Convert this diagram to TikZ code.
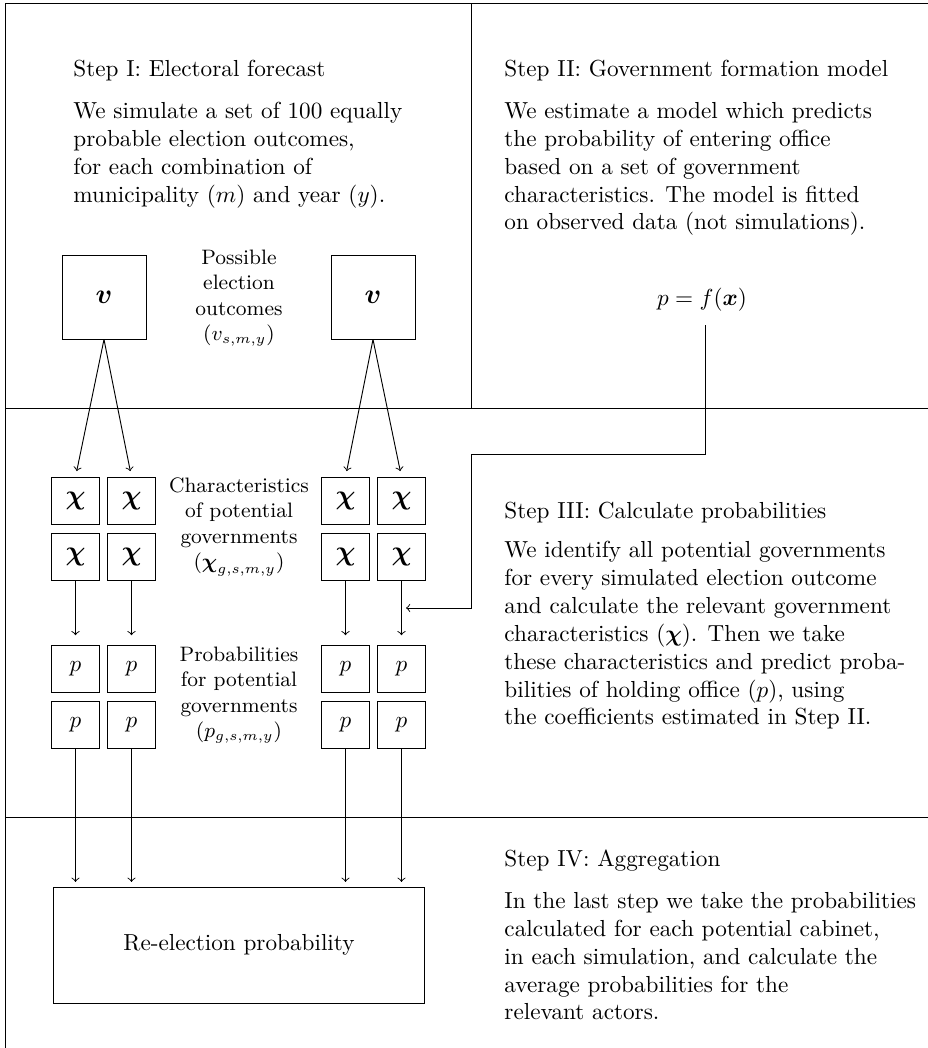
\documentclass[tikz,border=0pt]{standalone}
\usepackage{amsmath,amssymb}
\usepackage{tikz}
\tikzstyle{Frame}=[draw=black,thin]
\tikzstyle{VBox}=[rectangle,draw=black,inner sep=0pt,minimum size=36.2pt,
font=\large]
\tikzstyle{XBox}=[rectangle,draw=black,inner sep=0pt,minimum size=20.3pt,
font=\large]
\tikzstyle{PBox}=[rectangle,draw=black,inner sep=0pt,minimum size=20.3pt]
\tikzstyle{RBox}=[rectangle,draw=black,inner sep=0pt,minimum width=160pt,
minimum height=50pt]
\tikzstyle{Edge}=[draw=black,->,thin]
\tikzstyle{Label}=[font=\small,align=center,inner sep=0pt]
\tikzstyle{StepTitle}=[anchor=base west,inner sep=0pt]
\tikzstyle{StepText}=[anchor=north west,align=left,inner sep=0pt]

\begin{document}
\begin{tikzpicture}[x=0.431pt,y=-0.431pt]
        \useasboundingbox (0,0) rectangle (928,1048);
        % panels
        \draw[Frame] (5,1048) -- (5,3) -- (928,3);
        \draw[Frame] (5,408) -- (928,408);
        \draw[Frame] (5,817) -- (928,817);
        \draw[Frame] (471,3) -- (471,408);
        % step texts
        \node[StepTitle](t1)at(73,76){Step I: Electoral forecast};
        \node[StepText](b1)at(73,102){We simulate a set of 100 equally\\
            probable election outcomes,\\for each combination of\\
            municipality ($m$) and year ($y$).};
        \node[StepTitle](t2)at(504,76){Step II: Government formation model};
        \node[StepText](b2)at(504,102){We estimate a model which predicts\\
            the probability of entering office\\based on a set of government\\
            characteristics. The model is fitted\\
            on observed data (not simulations).};
        \node[StepTitle](t3)at(504,518){Step III: Calculate probabilities};
        \node[StepText](b3)at(504,541){We identify all potential governments\\
            for every simulated election outcome\\
            and calculate the relevant government\\
            characteristics ($\boldsymbol{\chi}$). Then we take\\
            these characteristics and predict proba-\\
            bilities of holding office ($p$), using\\
            the coefficients estimated in Step II.};
        \node[StepTitle](t4)at(504,866){Step IV: Aggregation};
        \node[StepText](b4)at(504,892){In the last step we take the probabilities\\
            calculated for each potential cabinet,\\
            in each simulation, and calculate the\\
            average probabilities for the\\relevant actors.};
        % election outcomes
        \node[VBox](v1)at(104,297){$\boldsymbol{v}$};
        \node[VBox](v2)at(373,297){$\boldsymbol{v}$};
        \node[Label](vl)at(239,298){Possible\\election\\outcomes\\
            ($v_{s,m,y}$)};
        % characteristics
        \node[XBox](x11)at(75.5,501){$\boldsymbol{\chi}$};
        \node[XBox](x12)at(131.5,501){$\boldsymbol{\chi}$};
        \node[XBox](x13)at(345.5,501){$\boldsymbol{\chi}$};
        \node[XBox](x14)at(401.5,501){$\boldsymbol{\chi}$};
        \node[XBox](x21)at(75.5,557){$\boldsymbol{\chi}$};
        \node[XBox](x22)at(131.5,557){$\boldsymbol{\chi}$};
        \node[XBox](x23)at(345.5,557){$\boldsymbol{\chi}$};
        \node[XBox](x24)at(401.5,557){$\boldsymbol{\chi}$};
        \node[Label](xl)at(239,527){Characteristics\\of potential\\
            governments\\($\boldsymbol{\chi}_{g,s,m,y}$)};
        % probabilities
        \node[PBox](p11)at(75.5,669){$p$};
        \node[PBox](p12)at(131.5,669){$p$};
        \node[PBox](p13)at(345.5,669){$p$};
        \node[PBox](p14)at(401.5,669){$p$};
        \node[PBox](p21)at(75.5,725){$p$};
        \node[PBox](p22)at(131.5,725){$p$};
        \node[PBox](p23)at(345.5,725){$p$};
        \node[PBox](p24)at(401.5,725){$p$};
        \node[Label](pl)at(239,695){Probabilities\\for potential\\
            governments\\($p_{g,s,m,y}$)};
        % result
        \node[RBox](r)at(239,945){Re-election probability};
        % model
        \node(f)at(702,300){$p = f(\boldsymbol{x})$};
        \coordinate(f0)at(705,325);
        \coordinate(f1)at(705,454);
        \coordinate(f2)at(471,454);
        \coordinate(f3)at(471,608);
        \coordinate(f4)at(406,608);
        % edges
        \draw[Edge,shorten >=2.6pt](v1.south)--(x11.north);
        \draw[Edge,shorten >=2.6pt](v1.south)--(x12.north);
        \draw[Edge,shorten >=2.6pt](v2.south)--(x13.north);
        \draw[Edge,shorten >=2.6pt](v2.south)--(x14.north);
        \draw[Edge,shorten >=4.2pt](x21)--(p11);
        \draw[Edge,shorten >=4.2pt](x22.south)--(p12.north);
        \draw[Edge,shorten >=4.2pt](x23.south)--(p13.north);
        \draw[Edge,shorten >=4.2pt](x24.south)--(p14.north);
        \draw[Edge,shorten >=2pt](p21.south)--(p21.south|-r.north);
        \draw[Edge,shorten >=2pt](p22.south)--(p22.south|-r.north);
        \draw[Edge,shorten >=2pt](p23.south)--(p23.south|-r.north);
        \draw[Edge,shorten >=2pt](p24.south)--(p24.south|-r.north);
        \draw[Edge](f0)--(f1)--(f2)--(f3)--(f4);
    \end{tikzpicture}
\end{document}
